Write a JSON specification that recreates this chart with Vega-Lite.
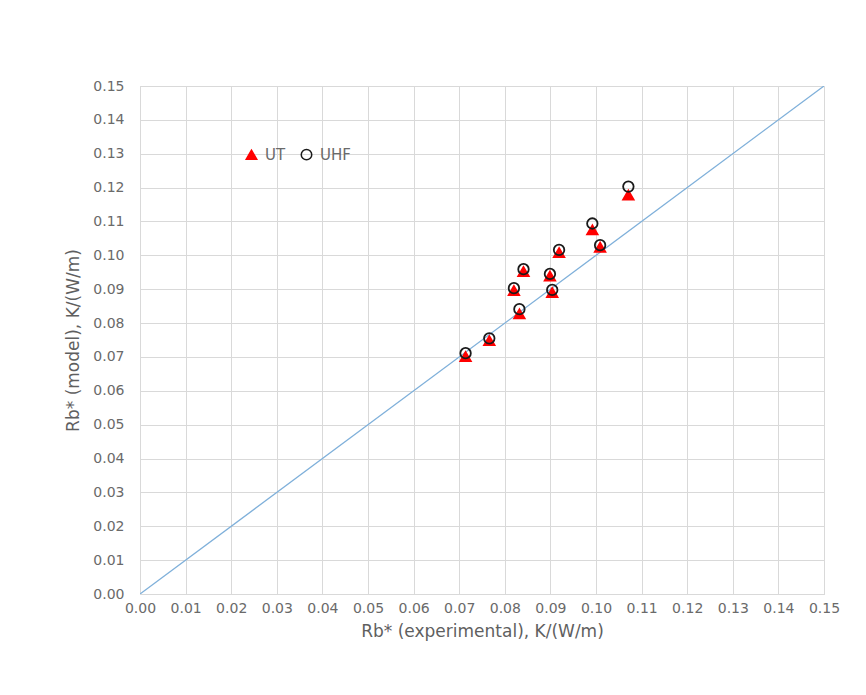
{
  "$schema": "https://vega.github.io/schema/vega-lite/v6.json",
  "autosize": "none",
  "width": 684,
  "height": 508,
  "padding": {"left": 140, "top": 86, "right": 42, "bottom": 101},
  "background": "#ffffff",
  "config": {
    "font": "DejaVu Sans",
    "view": {"stroke": "#d9d9d9", "strokeWidth": 1},
    "axis": {
      "labelFont": "DejaVu Sans",
      "titleFont": "DejaVu Sans",
      "labelColor": "#6a6a6a",
      "titleColor": "#5f5f5f",
      "labelFontSize": 14,
      "titleFontSize": 17,
      "titleFontWeight": "normal",
      "gridColor": "#d9d9d9",
      "gridWidth": 1,
      "domainColor": "#d9d9d9",
      "ticks": false,
      "labelOverlap": false,
      "labelFlush": false,
      "labelBound": false
    }
  },
  "datasets": {
    "points": [
      {"x": 0.0714, "series": "UT", "y": 0.0701},
      {"x": 0.0766, "series": "UT", "y": 0.0748},
      {"x": 0.0832, "series": "UT", "y": 0.0827},
      {"x": 0.0820, "series": "UT", "y": 0.0896},
      {"x": 0.0841, "series": "UT", "y": 0.0952},
      {"x": 0.0899, "series": "UT", "y": 0.0939},
      {"x": 0.0904, "series": "UT", "y": 0.0890},
      {"x": 0.0919, "series": "UT", "y": 0.1008},
      {"x": 0.0992, "series": "UT", "y": 0.1075},
      {"x": 0.1009, "series": "UT", "y": 0.1024},
      {"x": 0.1071, "series": "UT", "y": 0.1178},
      {"x": 0.0714, "series": "UHF", "y": 0.0711},
      {"x": 0.0766, "series": "UHF", "y": 0.0755},
      {"x": 0.0832, "series": "UHF", "y": 0.0841},
      {"x": 0.0820, "series": "UHF", "y": 0.0903},
      {"x": 0.0841, "series": "UHF", "y": 0.0959},
      {"x": 0.0899, "series": "UHF", "y": 0.0945},
      {"x": 0.0904, "series": "UHF", "y": 0.0898},
      {"x": 0.0919, "series": "UHF", "y": 0.1016},
      {"x": 0.0992, "series": "UHF", "y": 0.1094},
      {"x": 0.1009, "series": "UHF", "y": 0.1030},
      {"x": 0.1071, "series": "UHF", "y": 0.1203}
    ],
    "line": [
      {"x": 0, "y": 0},
      {"x": 0.15, "y": 0.15}
    ]
  },
  "encoding": {
    "x": {
      "field": "x", "type": "quantitative",
      "scale": {"domain": [0, 0.15], "nice": false, "zero": false},
      "axis": {
        "values": [0,0.01,0.02,0.03,0.04,0.05,0.06,0.07,0.08,0.09,0.10,0.11,0.12,0.13,0.14,0.15],
        "format": ".2f",
        "labelPadding": 7,
        "title": "Rb* (experimental), K/(W/m)",
        "titlePadding": 8
      }
    },
    "y": {
      "field": "y", "type": "quantitative",
      "scale": {"domain": [0, 0.15], "nice": false, "zero": false},
      "axis": {
        "values": [0,0.01,0.02,0.03,0.04,0.05,0.06,0.07,0.08,0.09,0.10,0.11,0.12,0.13,0.14,0.15],
        "format": ".2f",
        "labelPadding": 16,
        "labelOverlap": false,
        "title": "Rb* (model), K/(W/m)",
        "titlePadding": 10
      }
    }
  },
  "layer": [
    {
      "data": {"name": "line"},
      "mark": {"type": "line", "color": "#7fb0da", "strokeWidth": 1.3, "clip": true},
      "encoding": {}
    },
    {
      "data": {"name": "points"},
      "mark": {"type": "point", "size": 110, "strokeWidth": 1.8, "opacity": 1},
      "encoding": {
        "shape": {
          "field": "series", "type": "nominal",
          "scale": {"domain": ["UT", "UHF"], "range": ["triangle-up", "circle"]},
          "legend": {
            "title": null,
            "orient": "none",
            "legendX": 104,
            "legendY": 61,
            "direction": "horizontal",
            "labelFont": "DejaVu Sans",
            "labelFontSize": 15,
            "labelColor": "#6a6a6a",
            "symbolSize": 110,
            "columnPadding": 12,
            "labelOffset": 6
          }
        },
        "fill": {
          "field": "series", "type": "nominal",
          "scale": {"domain": ["UT", "UHF"], "range": ["#ff0000", "transparent"]},
          "legend": null
        },
        "stroke": {
          "field": "series", "type": "nominal",
          "scale": {"domain": ["UT", "UHF"], "range": ["#ff0000", "#1a1a1a"]},
          "legend": null
        }
      }
    }
  ]
}
